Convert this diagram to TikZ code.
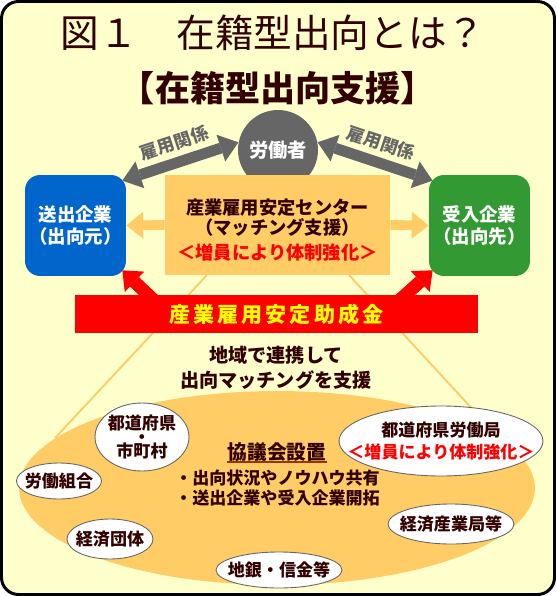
\documentclass[tikz,border=0pt]{standalone}
\usepackage{fontspec}
\setmainfont{Noto Sans CJK JP}
\usetikzlibrary{arrows.meta,positioning,shapes.geometric}
\definecolor{bgyellow}{HTML}{FFFFCC}
\definecolor{boxorange}{HTML}{FFCC66}
\definecolor{firmblue}{HTML}{0066CC}
\definecolor{firmgreen}{HTML}{339933}
\definecolor{workergray}{HTML}{666666}
\definecolor{textbrown}{HTML}{330000}
\definecolor{linebrown}{HTML}{993300}
\definecolor{barred}{HTML}{FF0000}
\definecolor{baryellow}{HTML}{FFFF00}
\begin{document}
\begin{tikzpicture}[x=0.02cm,y=-0.02cm,
  txt/.style={text=textbrown,inner sep=0pt,align=center},
  firmbox/.style={rounded corners=0.3cm,minimum width=2.02cm,minimum height=2.02cm,inner sep=1pt,text=white,align=center,font=\fontsize{10.5pt}{12.5pt}\selectfont\bfseries},
  member/.style={ellipse,draw=workergray,line width=0.5pt,fill=white,inner sep=-1cm,align=center,text=textbrown,font=\fontsize{9.7pt}{13pt}\selectfont\bfseries},
  grayarrow/.style={line width=6.2pt,workergray,{Triangle[length=10.5pt,width=16pt,line width=0pt]}-{Triangle[length=10.5pt,width=16pt,line width=0pt]}},
  orangearrow/.style={line width=5.6pt,boxorange,-{Triangle[length=9.6pt,width=15.3pt,line width=0pt]}},
  redarrow/.style={line width=7.4pt,barred,-{Triangle[length=9.5pt,width=16pt,line width=0pt]}},
  conline/.style={line width=1.1pt,boxorange},
  relation/.style={sloped,above=3.2pt,inner sep=0pt,text=workergray,font=\fontsize{10pt}{12pt}\selectfont\bfseries},
]
\useasboundingbox (0,0) rectangle (556,596);
\fill[white] (0,0) rectangle (556,596);
\draw[line width=1.7pt,fill=bgyellow,rounded corners=0.34cm] (1.5,1.5) rectangle (554.5,594.5);

% heading
\node[txt,font=\fontsize{22pt}{26pt}\selectfont] (title) at (273,33) {図１　在籍型出向とは？};
\node[txt,font=\fontsize{20pt}{24pt}\selectfont\bfseries] (subtitle) at (278,88) {【在籍型出向支援】};

% worker and the two firms
\node[circle,fill=workergray,minimum size=1.6cm,inner sep=0pt,text=white,font=\fontsize{11pt}{13pt}\selectfont\bfseries] (worker) at (278,150) {労働者};
\node[firmbox,fill=firmblue] (sender) at (75.5,225.5) {送出企業\\（出向元）};
\node[firmbox,fill=firmgreen] (receiver) at (479.5,225.5) {受入企業\\（出向先）};
\draw[grayarrow] (worker.169) -- node[relation] {雇用関係} ([xshift=-0.08cm,yshift=-0.12cm]sender.north east);
\draw[grayarrow] (worker.11) -- node[relation] {雇用関係} ([xshift=0.08cm,yshift=-0.12cm]receiver.north west);

% matching centre
\node[fill=boxorange,minimum width=4.5cm,minimum height=2cm,inner sep=0pt] (center) at (277.5,225) {};
\node[txt,font=\fontsize{10.4pt}{11.9pt}\selectfont\bfseries] (centertext) at (277.5,230) {産業雇用安定センター\\（マッチング支援）\\[2.2pt]\textcolor{barred}{＜増員により体制強化＞}};
\draw[orangearrow] (center.west) -- (sender.east);
\draw[orangearrow] (center.east) -- (receiver.west);

% spotlight onto the council
\coordinate (coneL) at (55,438);
\coordinate (coneR) at (499,438);
\draw[conline] ([xshift=0.84cm]center.south west) -- (coneL);
\draw[conline] ([xshift=-0.82cm]center.south east) -- (coneR);

% subsidy
\coordinate (subsidyL) at (160,306);
\coordinate (subsidyR) at (393,306);
\draw[redarrow] (subsidyL) -- ([xshift=-0.08cm,yshift=0.12cm]sender.south east);
\draw[redarrow] (subsidyR) -- ([xshift=0.08cm,yshift=0.12cm]receiver.south west);
\node[fill=barred,minimum width=8.06cm,minimum height=0.76cm,inner sep=0pt,text=baryellow,font=\fontsize{12pt}{14pt}\selectfont\bfseries\addfontfeature{LetterSpace=14}] (subsidy) at (276.5,314) {産業雇用安定助成金};

% regional council
\node[txt,font=\fontsize{10.9pt}{14.2pt}\selectfont\bfseries] (regional) at (276,368) {地域で連携して\\出向マッチングを支援};
\node[ellipse,fill=boxorange,minimum width=10.32cm,minimum height=3.88cm,inner sep=-1cm] (council) at (277,488) {};
\node[txt,font=\fontsize{11.2pt}{13pt}\selectfont\bfseries] (kyogi) at (277,452) {協議会設置};
\draw[linebrown,line width=1.1pt] (kyogi.south west) -- (kyogi.south east);
\node[txt,align=left,font=\fontsize{9.7pt}{11.3pt}\selectfont\bfseries] (points) at (277.5,488) {・出向状況やノウハウ共有\\・送出企業や受入企業開拓};

\node[member,minimum width=1.88cm,minimum height=1.36cm] (pref) at (142,437) {都道府県\\[-4.8pt]・\\[-4.8pt]市町村};
\node[member,minimum width=1.7cm,minimum height=0.72cm] (union) at (59,481) {労働組合};
\node[member,minimum width=1.72cm,minimum height=0.8cm] (business) at (110,539) {経済団体};
\node[member,minimum width=2.52cm,minimum height=0.72cm] (bank) at (279,570) {地銀・信金等};
\node[member,minimum width=2.52cm,minimum height=0.8cm] (meti) at (451,524) {経済産業局等};
\node[member,minimum width=4.08cm,minimum height=1.4cm] (labour) at (441,441) {都道府県労働局\\\textcolor{barred}{＜増員により体制強化＞}};
\end{tikzpicture}
\end{document}
